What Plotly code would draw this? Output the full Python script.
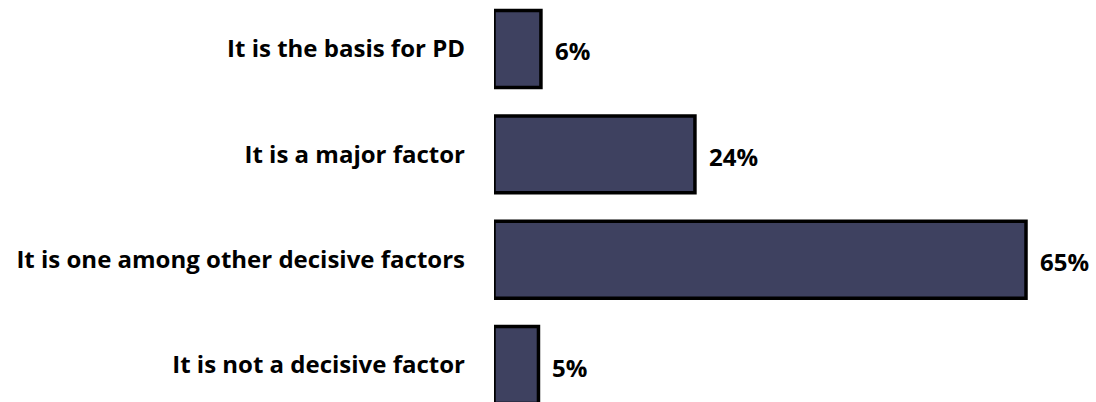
import plotly.graph_objects as go

categories = [
    "It is the basis for PD",
    "It is a major factor",
    "It is one among other decisive factors",
    "It is not a decisive factor",
]
values = [5.7, 24.4, 64.6, 5.4]
labels = ["6%", "24%", "65%", "5%"]

FONT = "Open Sans"
SIZE = 24
fig = go.Figure()
fig.add_trace(go.Bar(
    x=values,
    y=categories,
    orientation="h",
    marker=dict(color="#3E4160", line=dict(color="#000000", width=3.5)),
    width=0.73,
    hoverinfo="skip",
))

for c, v, t in zip(categories, values, labels):
    fig.add_annotation(
        x=v, y=c, text="<b>%s</b>" % t, showarrow=False,
        xanchor="left", yanchor="middle", xshift=12, yshift=-2,
        font=dict(family=FONT, size=SIZE, color="#000000"),
    )

fig.update_layout(
    width=1096, height=402,
    margin=dict(l=494, r=0, t=0, b=0),
    paper_bgcolor="white", plot_bgcolor="white",
    showlegend=False,
    font=dict(family=FONT, size=SIZE, color="#000000"),
)
fig.update_xaxes(range=[0, 73.1], visible=False, showgrid=False, zeroline=False,
                 automargin=False)
fig.update_yaxes(
    type="category",
    categoryorder="array", categoryarray=categories,
    range=[3.351, -0.465],
    showgrid=False, zeroline=False, showline=False, ticks="",
    ticklabelstandoff=28, automargin=False,
    tickfont=dict(family=FONT, size=SIZE, color="#000000", weight="bold"),
)

fig.write_html(
    "out.html",
    config={"displayModeBar": False},
    post_script="document.body.style.margin='0';document.body.style.overflow='hidden';",
)
